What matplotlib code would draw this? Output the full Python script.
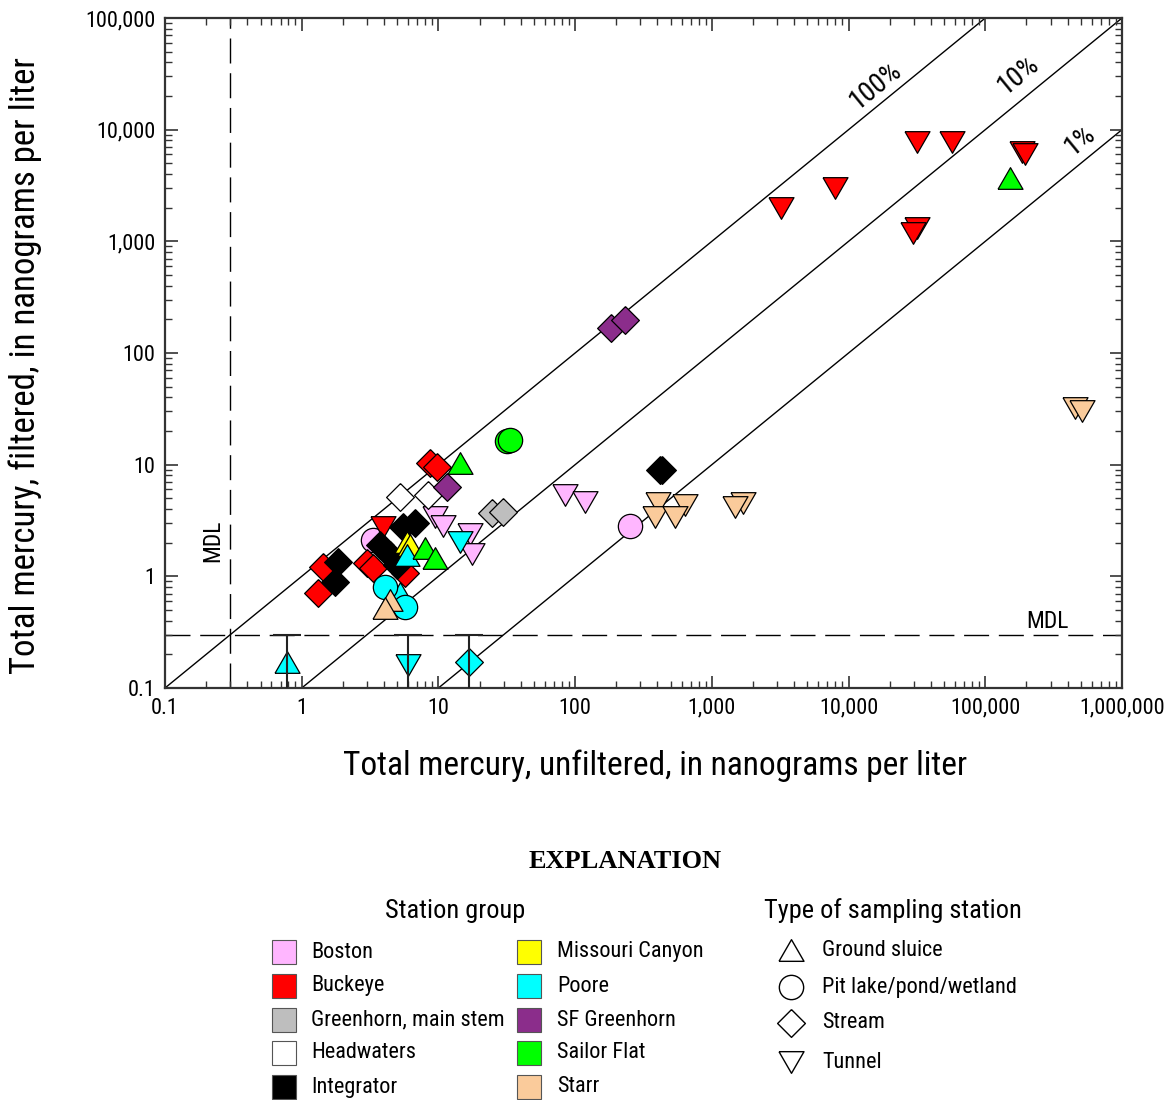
import matplotlib
matplotlib.use('Agg')
import matplotlib.pyplot as plt
from matplotlib.patches import Rectangle
from matplotlib.ticker import FixedLocator, LogLocator, NullFormatter
import numpy as np

plt.rcParams['font.family'] = ['Roboto Condensed', 'Liberation Sans Narrow', 'DejaVu Sans']
plt.rcParams['font.stretch'] = 'condensed'

## station groups, legend order
groups = ['Boston', 'Buckeye', 'Greenhorn, main stem', 'Headwaters', 'Integrator',
          'Missouri Canyon', 'Poore', 'SF Greenhorn', 'Sailor Flat', 'Starr']
group_colors = ['#ffb6ff', '#ff0000', '#bebebe', '#ffffff', '#000000',
                '#ffff00', '#00ffff', '#8b2d8b', '#00ff00', '#facb9b']

## type of sampling station: G=ground sluice, P=pit lake/pond/wetland, S=stream, T=tunnel
type_codes = ['G', 'P', 'S', 'T']
type_names = ['Ground sluice', 'Pit lake/pond/wetland', 'Stream', 'Tunnel']

MDL = 0.3

## total mercury, ng/L  (unfiltered, filtered, type)
boston_unf = [9.4, 10.8, 17.0, 17.6, 84, 118, 3.3, 252]
boston_filt = [3.4, 2.8, 2.4, 1.6, 5.3, 4.6, 2.1, 2.8]
boston_type = ['T', 'T', 'T', 'T', 'T', 'T', 'P', 'P']

buckeye_unf = [3200, 8000, 31700, 57200, 31700, 29800, 186000, 196000, 3.9,
               8.7, 9.8, 1.43, 1.32, 3.0, 3.3, 5.7]
buckeye_filt = [2000, 3000, 7700, 7700, 1310, 1190, 6300, 6000, 2.75,
                10.3, 9.5, 1.21, 0.71, 1.32, 1.19, 1.07]
buckeye_type = ['T', 'T', 'T', 'T', 'T', 'T', 'T', 'T', 'T',
                'S', 'S', 'S', 'S', 'S', 'S', 'S']

greenhorn_unf = [24.7, 29.7]
greenhorn_filt = [3.7, 3.75]
greenhorn_type = ['S', 'S']

headwaters_unf = [5.2, 8.4]
headwaters_filt = [5.1, 5.35]
headwaters_type = ['S', 'S']

integrator_unf = [418, 432, 5.5, 6.7, 1.84, 1.75, 3.74, 4.4, 5.0]
integrator_filt = [8.9, 8.95, 2.76, 3.0, 1.34, 0.89, 1.91, 1.55, 1.26]
integrator_type = ['S', 'S', 'S', 'S', 'S', 'S', 'S', 'S', 'S']

missouri_unf = [5.9, 6.2]
missouri_filt = [2.03, 1.9]
missouri_type = ['G', 'G']

poore_unf = [5.9, 5.2, 4.07, 5.7, 14.4, 0.78, 6.0, 16.7]
poore_filt = [1.55, 0.71, 0.80, 0.53, 2.03, 0.17, 0.16, 0.17]
poore_type = ['G', 'G', 'P', 'P', 'T', 'G', 'T', 'S']

sfgreenhorn_unf = [183, 232, 11.6]
sfgreenhorn_filt = [167, 197, 6.3]
sfgreenhorn_type = ['S', 'S', 'S']

sailor_unf = [31.8, 33.4, 14.4, 8.0, 9.4, 152000]
sailor_filt = [16.3, 16.6, 10.3, 1.79, 1.46, 3680]
sailor_type = ['P', 'P', 'G', 'G', 'G', 'G']

starr_unf = [4.4, 4.07, 404, 637, 384, 538, 1690, 1480, 454000, 511000]
starr_filt = [0.61, 0.52, 4.5, 4.35, 3.4, 3.4, 4.5, 4.2, 32, 30.5]
starr_type = ['G', 'G', 'T', 'T', 'T', 'T', 'T', 'T', 'T', 'T']

data = {
    'Boston': (boston_unf, boston_filt, boston_type),
    'Buckeye': (buckeye_unf, buckeye_filt, buckeye_type),
    'Greenhorn, main stem': (greenhorn_unf, greenhorn_filt, greenhorn_type),
    'Headwaters': (headwaters_unf, headwaters_filt, headwaters_type),
    'Integrator': (integrator_unf, integrator_filt, integrator_type),
    'Missouri Canyon': (missouri_unf, missouri_filt, missouri_type),
    'Poore': (poore_unf, poore_filt, poore_type),
    'SF Greenhorn': (sfgreenhorn_unf, sfgreenhorn_filt, sfgreenhorn_type),
    'Sailor Flat': (sailor_unf, sailor_filt, sailor_type),
    'Starr': (starr_unf, starr_filt, starr_type),
}

# marker shapes (equilateral triangles, square diamond)
h = np.sqrt(3) / 4
tri_up = [(-0.5, -h), (0.5, -h), (0, h), (-0.5, -h)]
tri_dn = [(-0.5, h), (0.5, h), (0, -h), (-0.5, h)]
diamond = [(0, 0.5), (0.5, 0), (0, -0.5), (-0.5, 0), (0, 0.5)]
markers = {'G': (tri_up, 18), 'P': ('o', 17.5), 'S': (diamond, 20), 'T': (tri_dn, 18)}

fig = plt.figure(figsize=(11.71, 11.0), dpi=100)
ax = fig.add_axes([165 / 1171, 1 - 688 / 1100, 957 / 1171, 670 / 1100])
ax.set_xscale('log')
ax.set_yscale('log')
ax.set_xlim(0.1, 1e6)
ax.set_ylim(0.1, 1e5)

# reference lines 100%, 10%, 1%
xx = np.array([0.1, 1e6])
for frac in [1.0, 0.1, 0.01]:
    ax.plot(xx, xx * frac, color='black', lw=1.0, zorder=1)
ax.text(15900, 25000, '100%', rotation=39.3, ha='center', va='center', fontsize=20)
ax.text(174000, 30800, '10%', rotation=39.3, ha='center', va='center', fontsize=20)
ax.text(493000, 8050, '1%', rotation=39.3, ha='center', va='center', fontsize=20)

# method detection limit
ax.axvline(MDL, color='black', lw=1.0, dashes=(18, 7), zorder=1)
ax.axhline(MDL, color='black', lw=1.0, dashes=(18, 7), zorder=1)
ax.text(0.224, 2.1, 'MDL', rotation=90, ha='center', va='center', fontsize=17,
        bbox=dict(facecolor='white', edgecolor='none', pad=1))
ax.text(283000, 0.39, 'MDL', ha='center', va='center', fontsize=17)

# points
for g, c in zip(groups, group_colors):
    ux, fy, tp = data[g]
    ux = np.array(ux)
    fy = np.array(fy)
    tp = np.array(tp)
    for t in type_codes:
        m = tp == t
        if not m.any():
            continue
        mk, ms = markers[t]
        ax.plot(ux[m], fy[m], linestyle='none', marker=mk, markersize=ms,
                markerfacecolor=c, markeredgecolor='black', markeredgewidth=0.9,
                zorder=3)
    # values below MDL shown as less-than bars
    below = fy < MDL
    if below.any():
        ax.vlines(ux[below], 0.1, MDL, color='#222222', lw=1.5, zorder=4)
        ax.plot(ux[below], np.full(below.sum(), MDL), linestyle='none', marker='_',
                markersize=20, markeredgewidth=1.5, color='#222222', zorder=4)

xt = [0.1, 1, 10, 100, 1000, 1e4, 1e5, 1e6]
xtl = ['0.1', '1', '10', '100', '1,000', '10,000', '100,000', '1,000,000']
yt = [0.1, 1, 10, 100, 1000, 1e4, 1e5]
ytl = ['0.1', '1', '10', '100', '1,000', '10,000', '100,000']
ax.xaxis.set_major_locator(FixedLocator(xt))
ax.set_xticklabels(xtl)
ax.yaxis.set_major_locator(FixedLocator(yt))
ax.set_yticklabels(ytl)
ax.xaxis.set_minor_locator(LogLocator(base=10, subs=np.arange(2, 10), numticks=20))
ax.yaxis.set_minor_locator(LogLocator(base=10, subs=np.arange(2, 10), numticks=20))
ax.xaxis.set_minor_formatter(NullFormatter())
ax.yaxis.set_minor_formatter(NullFormatter())
ax.tick_params(which='both', direction='in', top=True, right=True, color='#333333',
               labelsize=16)
ax.tick_params(which='major', length=9, width=1.2, pad=7)
ax.tick_params(which='minor', length=5, width=1.0)
for sp in ax.spines.values():
    sp.set_color('#333333')
    sp.set_linewidth(1.6)

fig.text(655 / 1171, 1 - 766 / 1100, 'Total mercury, unfiltered, in nanograms per liter',
         ha='center', va='center', fontsize=24)
fig.text(25 / 1171, 1 - 366 / 1100, 'Total mercury, filtered, in nanograms per liter',
         ha='center', va='center', rotation=90, fontsize=25)

# explanation
lg = fig.add_axes([0, 0, 1, 1])
lg.set_xlim(0, 1171)
lg.set_ylim(1100, 0)
lg.axis('off')
lg.patch.set_alpha(0)
lg.text(625, 862, 'EXPLANATION', ha='center', va='center', fontsize=19,
        fontweight='bold', family=['Liberation Serif', 'DejaVu Serif'])
lg.text(455, 911, 'Station group', ha='center', va='center', fontsize=19)
lg.text(893, 911, 'Type of sampling station', ha='center', va='center', fontsize=19)

row_y = [952, 986, 1020, 1053, 1087]
for i, (g, c) in enumerate(zip(groups, group_colors)):
    col, row = divmod(i, 5)
    bx = [284, 529][col]
    tx = [311, 557][col]
    y = row_y[row]
    lg.add_patch(Rectangle((bx - 12, y - 12), 24, 24, facecolor=c,
                           edgecolor='#555555', lw=0.8))
    lg.text(tx, y, g, ha='left', va='center', fontsize=16)

shape_y = [950, 987, 1023, 1062]
for t, name, y in zip(type_codes, type_names, shape_y):
    mk, ms = markers[t]
    lg.plot([791], [y], marker=mk, markersize=ms, markerfacecolor='white',
            markeredgecolor='black', markeredgewidth=1.0, linestyle='none')
    lg.text(822, y, name, ha='left', va='center', fontsize=16)

fig.savefig('out.png', dpi=100)
